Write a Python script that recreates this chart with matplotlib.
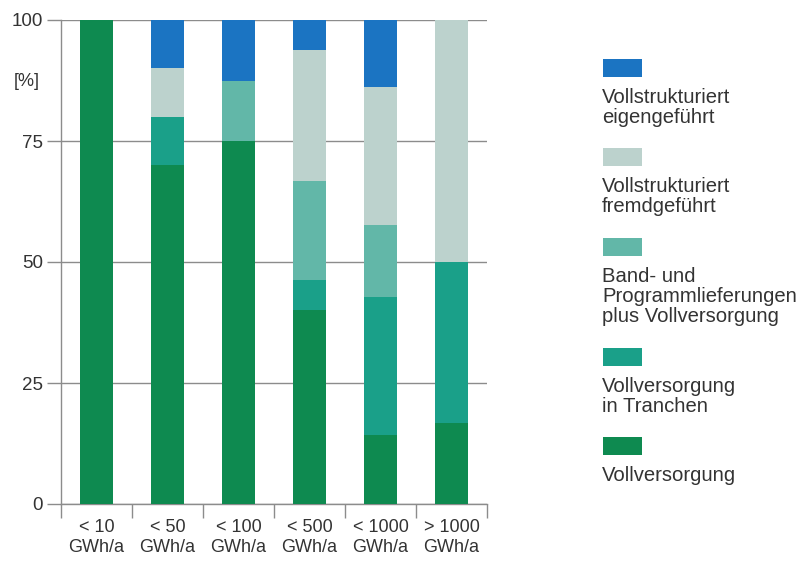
import numpy as np
import matplotlib
matplotlib.use("Agg")
import matplotlib.pyplot as plt
from matplotlib.patches import Rectangle

plt.rcParams['font.family'] = ['Liberation Sans', 'DejaVu Sans']

# data
categories = ['< 10\nGWh/a', '< 50\nGWh/a', '< 100\nGWh/a', '< 500\nGWh/a', '< 1000\nGWh/a', '> 1000\nGWh/a']
series_names = ['Vollversorgung',
                'Vollversorgung\nin Tranchen',
                'Band- und\nProgrammlieferungen\nplus Vollversorgung',
                'Vollstrukturiert\nfremdgeführt',
                'Vollstrukturiert\neigengeführt']
vollversorgung = [100, 70, 75, 40, 14.3, 16.7]
tranchen = [0, 10, 0, 6.2, 28.5, 33.3]
band = [0, 0, 12.5, 20.5, 14.8, 0]
fremd = [0, 10, 0, 27.0, 28.6, 50.0]
eigen = [0, 10, 12.5, 6.3, 13.8, 0]
series = [vollversorgung, tranchen, band, fremd, eigen]
colors = ['#0e8a50', '#1aa089', '#62b7a8', '#bcd2cd', '#1b74c2']

text_col = '#333333'
line_col = '#8c8c8c'

fig = plt.figure(figsize=(8.08, 5.63), dpi=100)
ax = fig.add_axes([61/808, 1-504/563, (487-61)/808, (504-20)/563])

x = np.arange(len(categories))
bottom = np.zeros(len(categories))
for vals, col in zip(series, colors):
    vals = np.array(vals, dtype=float)
    ax.bar(x, vals, width=0.47, bottom=bottom, color=col, zorder=3, linewidth=0)
    bottom += vals

ax.set_xlim(-0.5, 5.5)
ax.set_ylim(0, 100)
ax.set_yticks([0, 25, 50, 75, 100])
ax.yaxis.grid(True, color=line_col, linewidth=1, zorder=0)
ax.tick_params(axis='y', direction='out', length=10, width=1, color=line_col,
               labelsize=13.5, labelcolor=text_col, pad=3)
ax.set_xticks(x)
ax.set_xticklabels(categories)
ax.tick_params(axis='x', which='major', length=0, labelsize=13, labelcolor=text_col, pad=11)
ax.set_xticks(np.arange(-0.5, 6, 1), minor=True)
ax.tick_params(axis='x', which='minor', direction='out', length=10, width=1, color=line_col)

for s in ['top', 'right']:
    ax.spines[s].set_visible(False)
for s in ['left', 'bottom']:
    ax.spines[s].set_color(line_col)
    ax.spines[s].set_linewidth(1)

fig.text(40/808, 1-82/563, '[%]', ha='right', va='center', fontsize=13, color=text_col)

# legend, top item first
legend_tops = [59, 148, 238, 348, 437]
for name, col, top in zip(series_names[::-1], colors[::-1], legend_tops):
    fig.add_artist(Rectangle((603/808, 1-(top+18)/563), 39/808, 18/563,
                             transform=fig.transFigure, color=col, linewidth=0))
    fig.text(602/808, 1-(top+29)/563, name, ha='left', va='top', fontsize=14.6,
             color=text_col, linespacing=1.08)

fig.savefig('out.png', dpi=100)
